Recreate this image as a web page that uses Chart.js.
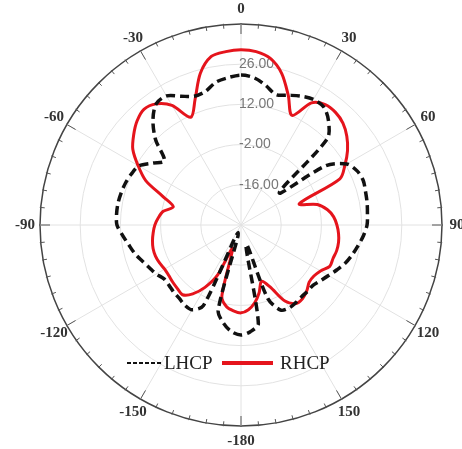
<!DOCTYPE html>
<html>
<head>
<meta charset="utf-8">
<script src="https://cdn.jsdelivr.net/npm/chart.js@4.4.1/dist/chart.umd.min.js"></script>
<style>
  html, body { margin: 0; padding: 0; background: #fff; }
  canvas { display: block; }
</style>
</head>
<body>
<canvas id="pattern-chart" width="462" height="449"></canvas>
<script>
'use strict'

// angle (deg) of each sample, clockwise from the top
const angles = [
  0, 5, 10, 15, 20, 25, 30, 35, 40, 45, 50, 55, 60, 65, 70, 75, 80, 85,
  90, 95, 100, 105, 110, 115, 120, 125, 130, 135, 140, 145, 150, 155, 160, 165, 170, 175,
  180, -175, -170, -165, -160, -155, -150, -145, -140, -135, -130, -125, -120, -115, -110, -105,
  -100, -95, -90, -85, -80, -75, -70, -65, -60, -55, -50, -45, -40, -35, -30, -25, -20, -15, -10, -5
];

// LHCP (dB)
const lhcp = [
  22.2, 21.5, 19.4, 17.0, 18.1, 19.5, 20.5, 20.2, 17.4, 12.5, -12.6, 5.9, 12.5, 14.6, 15.3, 14.9, 14.6, 14.2,
  13.9, 12.8, 11.4, 10.1, 8.7, 6.9, 5.2, 3.8, 2.7, 2.7, 2.7, 3.1, 3.4, 2.7, -2.8, -23.0, 4.8, 7.3,
  8.3, 7.3, 4.8, 0.7, -27.2, 1.0, 4.1, 4.1, 3.4, 3.1, 2.7, 2.7, 4.1, 5.2, 6.6, 8.3,
  9.7, 11.4, 13.2, 13.5, 13.5, 13.2, 12.8, 12.1, 11.1, 7.6, 4.8, 12.1, 17.7, 21.5, 21.9, 19.5, 17.7, 18.1, 20.5, 21.5
];

// RHCP (dB)
const rhcp = [
  31.0, 30.6, 28.9, 24.7, 18.1, 12.1, 19.1, 21.2, 21.2, 20.2, 18.1, 15.3, 11.8, 8.0, -8.4, -2.5, 0.6, 2.4,
  3.4, 4.1, 4.5, 4.5, 4.1, 4.1, 2.0, 1.0, 1.0, 2.4, 3.4, 3.4, 0.6, -6.3, -9.1, -5.6, -2.5, -0.4,
  0.6, 0.0, -1.1, -4.2, -21.3, -10.8, -4.9, -0.7, 1.7, 1.3, 1.0, 0.7, 0.7, 1.3, 1.7, 1.7,
  1.3, 0.7, 0.0, -1.1, -2.5, -5.6, -1.1, 6.6, 11.4, 16.0, 18.8, 21.2, 22.6, 21.5, 18.1, 11.4, 16.7, 24.7, 29.6, 30.6
];

// ring labels and angle labels
const ringTicks = [-16, -2, 12, 26];
const angleTicks = ['0', '30', '60', '90', '120', '150', '-180', '-150', '-120', '-90', '-60', '-30'];

// extra drawing: ring values, outer tick marks, angle labels, legend
const polarDecor = {
  id: 'polarDecor',
  beforeDatasetsDraw(chart) {
    const r = chart.scales.r;
    const ctx = chart.ctx;
    ctx.save();
    ctx.font = '14px "Liberation Sans", Arial, sans-serif';
    ctx.fillStyle = '#777';
    ctx.textAlign = 'left';
    ctx.textBaseline = 'middle';
    ringTicks.forEach(v => {
      const d = r.getDistanceFromCenterForValue(v);
      ctx.fillText(v.toFixed(2), r.xCenter - 2, r.yCenter - d);
    });
    ctx.restore();
  },
  afterDraw(chart) {
    const r = chart.scales.r;
    const ctx = chart.ctx;
    const R = r.drawingArea;
    ctx.save();
    // tick marks on the outer circle
    ctx.strokeStyle = '#555';
    ctx.lineWidth = 1;
    angles.forEach((a, i) => {
      const major = a % 30 === 0;
      const p1 = r.getPointPosition(i, R - (major ? 10 : 4));
      const p2 = r.getPointPosition(i, R + 1);
      ctx.beginPath();
      ctx.moveTo(p1.x, p1.y);
      ctx.lineTo(p2.x, p2.y);
      ctx.stroke();
    });
    // angle labels
    ctx.font = 'bold 15px "Liberation Serif", "Times New Roman", serif';
    ctx.fillStyle = '#333';
    ctx.textAlign = 'center';
    ctx.textBaseline = 'middle';
    angles.forEach((a, i) => {
      if (a % 30 !== 0) return;
      const txt = angleTicks[(a < 0 ? a + 360 : a) / 30 % 12];
      const p = r.getPointPosition(i, R + 15);
      ctx.fillText(txt, p.x, p.y);
    });
    // legend
    const ds = chart.data.datasets;
    const ly = 363;
    ctx.font = '19px "Liberation Serif", "Times New Roman", serif';
    ctx.textAlign = 'left';
    ctx.fillStyle = '#222';
    ctx.lineWidth = 2;
    ctx.strokeStyle = ds[0].borderColor;
    ctx.setLineDash([4, 2]);
    ctx.beginPath();
    ctx.moveTo(127, ly);
    ctx.lineTo(163, ly);
    ctx.stroke();
    ctx.fillText(ds[0].label, 164, ly + 1);
    ctx.setLineDash([]);
    ctx.lineWidth = 4;
    ctx.strokeStyle = ds[1].borderColor;
    ctx.beginPath();
    ctx.moveTo(222, ly);
    ctx.lineTo(273, ly);
    ctx.stroke();
    ctx.fillText(ds[1].label, 280, ly + 1);
    ctx.restore();
  }
};

var context = document.querySelector('#pattern-chart').getContext('2d');
new Chart(context, {
  type: 'radar',
  data: {
    labels: angles,
    datasets: [
      {
        label: 'LHCP',
        data: lhcp,
        borderColor: '#111',
        borderWidth: 3.5,
        borderDash: [9, 5],
        fill: false,
        pointRadius: 0,
        tension: 0.3,
      },
      {
        label: 'RHCP',
        data: rhcp,
        borderColor: '#e5141c',
        borderWidth: 3,
        fill: false,
        pointRadius: 0,
        tension: 0.3,
      },
    ],
  },
  options: {
    responsive: false,
    animation: false,
    layout: { padding: { left: 40, right: 20, top: 24, bottom: 23 } },
    plugins: {
      legend: { display: false },
      tooltip: { enabled: false },
    },
    scales: {
      r: {
        min: -30,
        max: 40,
        ticks: { stepSize: 14, display: false },
        pointLabels: { display: false },
        grid: {
          circular: true,
          color: (c) => (c.tick && c.tick.value === 40 ? '#444' : '#e2e2e2'),
          lineWidth: (c) => (c.tick && c.tick.value === 40 ? 1.5 : 1),
        },
        angleLines: {
          color: (c) => (angles[c.index] % 30 === 0 ? '#e2e2e2' : 'rgba(0,0,0,0)'),
        },
      },
    },
  },
  plugins: [polarDecor],
});
</script>
</body>
</html>
